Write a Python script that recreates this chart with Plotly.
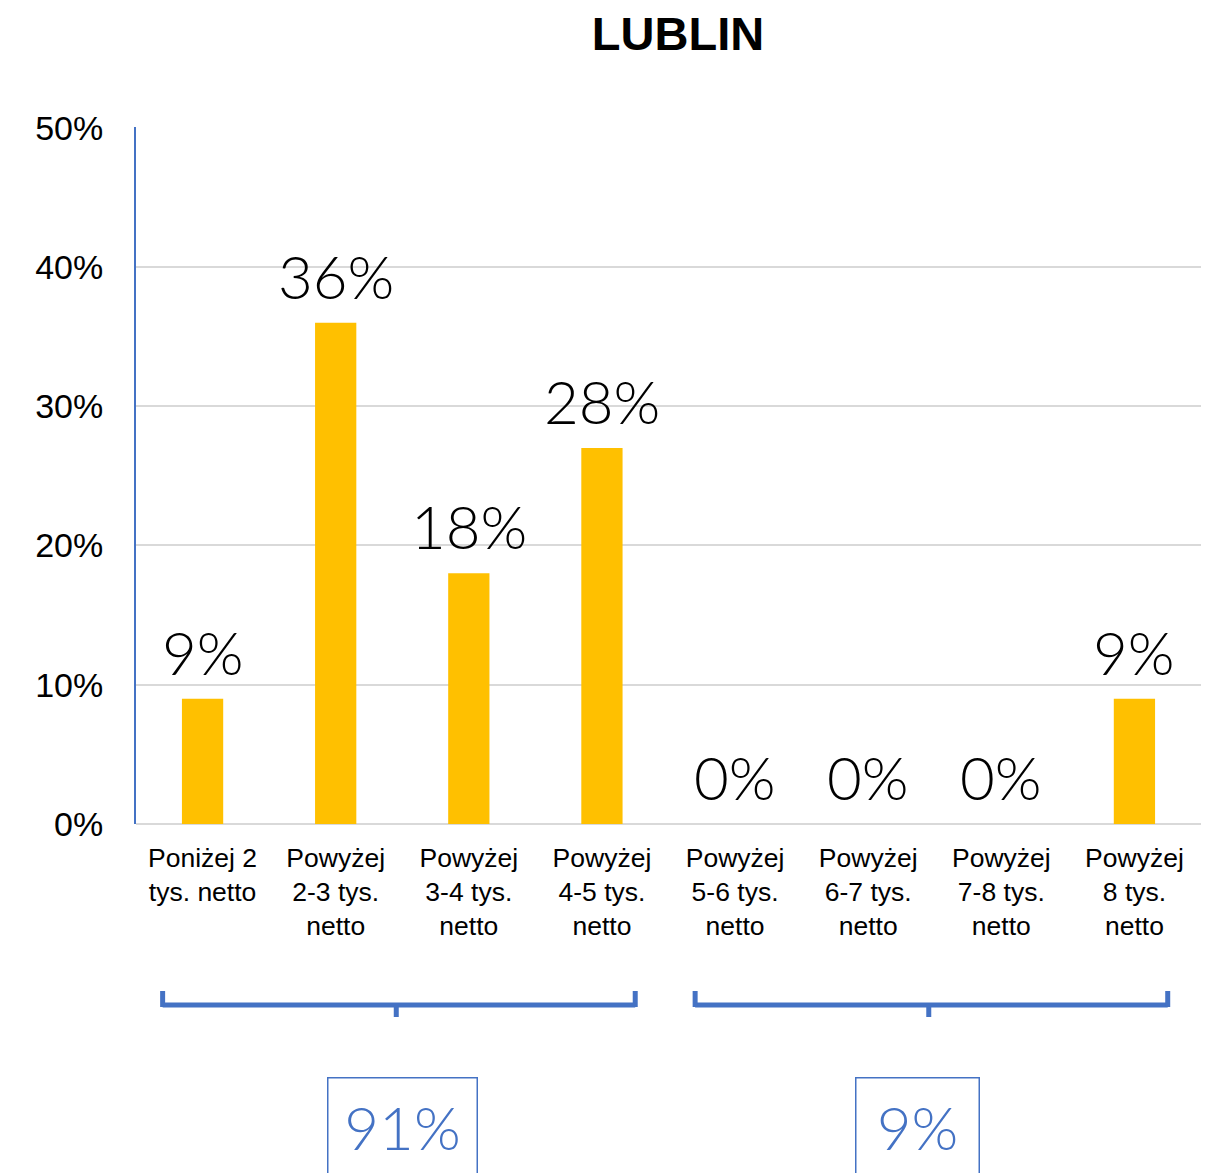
import plotly.graph_objects as go

categories = ["Poniżej 2<br>tys. netto", "Powyżej<br>2-3 tys.<br>netto", "Powyżej<br>3-4 tys.<br>netto",
              "Powyżej<br>4-5 tys.<br>netto", "Powyżej<br>5-6 tys.<br>netto", "Powyżej<br>6-7 tys.<br>netto",
              "Powyżej<br>7-8 tys.<br>netto", "Powyżej<br>8 tys.<br>netto"]
values = [9, 36, 18, 27, 0, 0, 0, 9]
labels = ["9%", "36%", "18%", "28%", "0%", "0%", "0%", "9%"]
y_ticks = [0, 10, 20, 30, 40, 50]
y_tick_labels = ["0%", "10%", "20%", "30%", "40%", "50%"]
group_labels = ["91%", "9%"]
group_start = [0, 4]
group_end = [3, 7]

# layout constants (screen pixels of the target picture)
BLUE = "#4472C4"
OFF = 7                      # page offset of the plot div
W, H = 1210 - 8, 1173 - 8
PL, PR, PT, PB = 135, 1200, 126, 823   # plot area on screen
BOX_X = [1.5, 5.37]
BOX_W = [124, 98]

ph = PB - PT
def py(pix):
    return (PB - pix) / ph

xs = list(range(len(categories)))
fig = go.Figure()
fig.add_trace(go.Bar(
    x=xs, y=values,
    marker=dict(color="#FFC000", line=dict(width=0)), width=0.31,
))

annotations = []
for xi, v, t in zip(xs, values, labels):
    annotations.append(dict(x=xi, y=v, xref="x", yref="y", text=t, showarrow=False,
                            xanchor="center", yanchor="bottom", yshift=9,
                            font=dict(family="Lato", size=60, color="black", weight=300)))

shapes = []
for i, (lab, s, e) in enumerate(zip(group_labels, group_start, group_end)):
    x0, x1 = s - 0.3, e + 0.25
    xc = (x0 + x1) / 2 - 0.02
    ln = dict(color=BLUE, width=5)
    shapes.append(dict(type="line", xref="x", yref="paper", x0=x0, x1=x1, y0=py(1004), y1=py(1004), line=ln))
    shapes.append(dict(type="line", xref="x", yref="paper", x0=x0, x1=x0, y0=py(990), y1=py(1006), line=ln))
    shapes.append(dict(type="line", xref="x", yref="paper", x0=x1, x1=x1, y0=py(990), y1=py(1006), line=ln))
    shapes.append(dict(type="line", xref="x", yref="paper", x0=xc, x1=xc, y0=py(1004), y1=py(1016), line=ln))
    annotations.append(dict(text=lab, xref="x", yref="paper", x=BOX_X[i], y=py(1125), showarrow=False,
                            font=dict(family="Lato", size=60, color=BLUE, weight=300), width=BOX_W[i],
                            bordercolor=BLUE, borderwidth=1.5, borderpad=12, xanchor="center", yanchor="middle"))

fig.update_layout(
    width=W, height=H,
    margin=dict(l=PL - OFF, r=W - (PR - OFF), t=PT - OFF, b=H - (PB - OFF), autoexpand=False),
    paper_bgcolor="white", plot_bgcolor="white", showlegend=False,
    title=dict(text="<b>LUBLIN</b>", x=(677 - OFF) / W, xanchor="center", y=1 - (33 - OFF) / H, yanchor="middle",
               font=dict(family="Liberation Sans", size=47, color="black")),
    xaxis=dict(tickmode="array", tickvals=xs, ticktext=categories,
               tickfont=dict(family="Liberation Sans", size=26.5, color="black"), ticklabelstandoff=15,
               range=[-0.5, len(categories) - 0.5], showgrid=False, showline=False, zeroline=False,
               automargin=False),
    yaxis=dict(range=[0, 50.05], tickvals=y_ticks, ticktext=y_tick_labels,
               tickfont=dict(family="Liberation Sans", size=34, color="black"),
               showgrid=True, gridcolor="#D9D9D9", gridwidth=1.5, zeroline=True, zerolinecolor="#D9D9D9",
               zerolinewidth=1.5, showline=True, linecolor=BLUE, linewidth=2, ticklabelstandoff=24,
               automargin=False),
    shapes=shapes, annotations=annotations, bargap=0.69,
)
fig.write_html("out.html")
